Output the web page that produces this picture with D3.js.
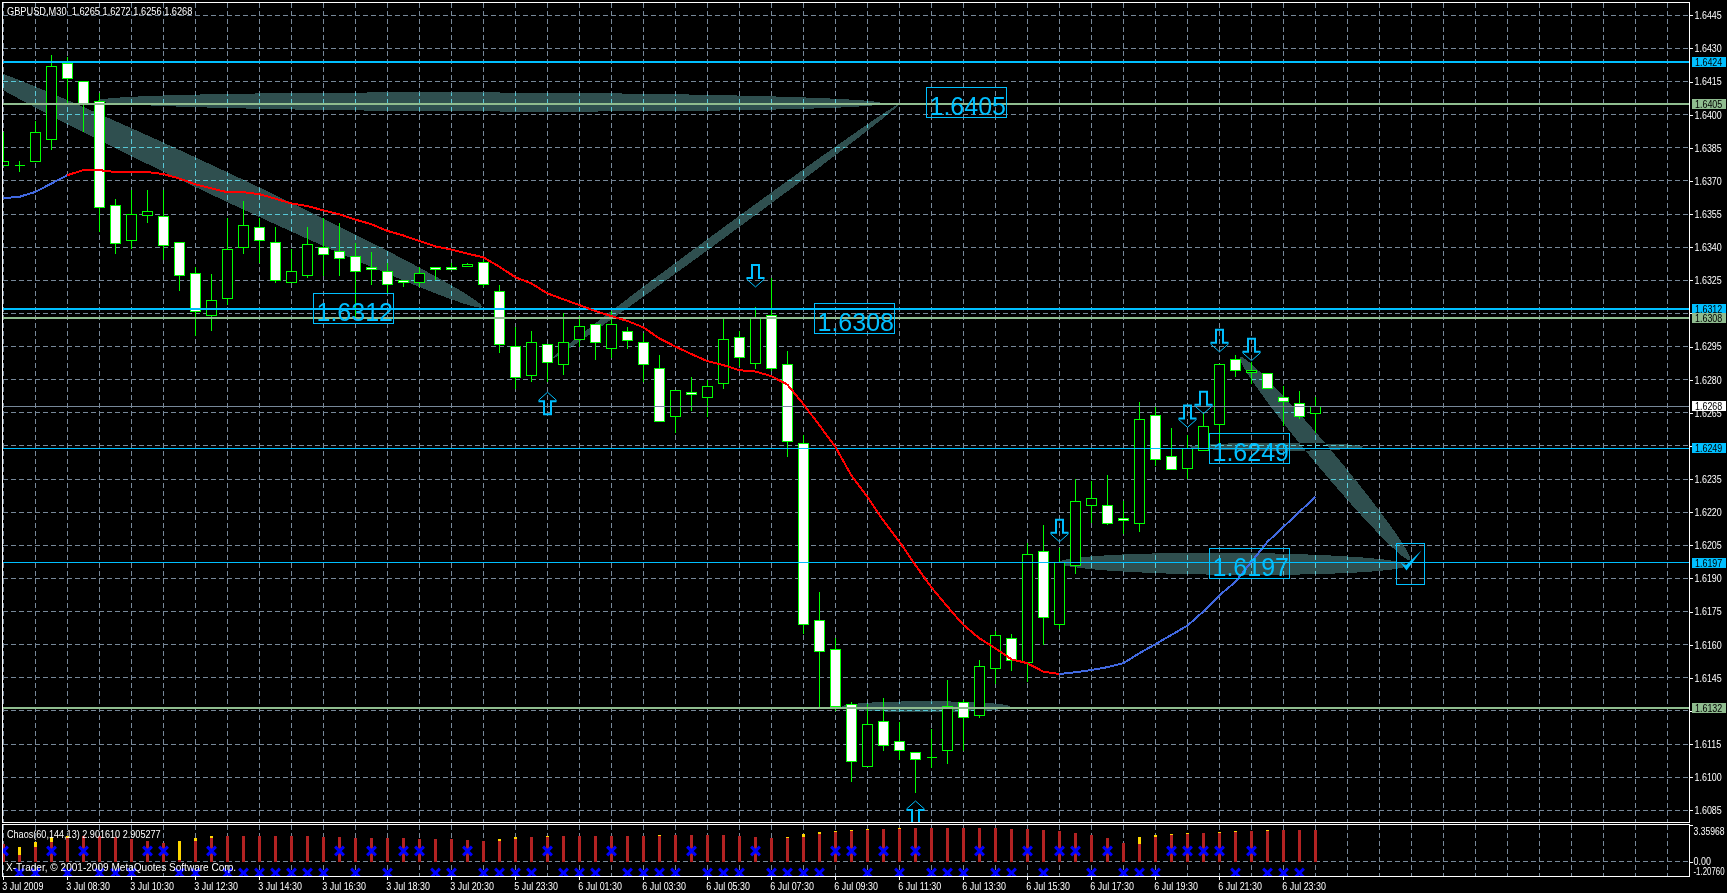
<!DOCTYPE html>
<html><head><meta charset="utf-8">
<script src="https://cdnjs.cloudflare.com/ajax/libs/d3/7.8.5/d3.min.js"></script>
<style>
html,body{margin:0;padding:0;background:#000;overflow:hidden}
svg{display:block}
text{font-family:"Liberation Sans",Arial,sans-serif;font-size:10.5px;fill:#fff}
.axis path{display:none}
.axis line{stroke:#fff;shape-rendering:crispEdges}
text.big{font-family:"Liberation Sans",Arial,sans-serif;font-size:25px;fill:#00bfff}
text.dark{fill:#000}
</style></head><body><div id="chart"></div>
<script>
// ---------- data ----------
const opens=[1.6377,1.6377,1.6379,1.6389,1.6423,1.6415,1.6406,1.6359,1.6343,1.6354,1.6354,1.6342,1.6328,1.6309,1.6317,1.6340,1.6349,1.6342,1.6324,1.6327,1.6340,1.6338,1.6336,1.6331,1.6329,1.6325,1.6324,1.6331,1.6331,1.6331,1.6333,1.6320,1.6295,1.6282,1.6296,1.6287,1.6298,1.6305,1.6294,1.6302,1.6297,1.6285,1.6263,1.6274,1.6272,1.6278,1.6299,1.6287,1.6309,1.6287,1.6251,1.6171,1.6158,1.6133,1.6105,1.6125,1.6116,1.6111,1.6109,1.6112,1.6134,1.6128,1.6149,1.6163,1.6152,1.6202,1.6169,1.6196,1.6223,1.6223,1.6217,1.6215,1.6264,1.6245,1.6240,1.6248,1.6260,1.6289,1.6283,1.6283,1.6272,1.6269,1.6265];
const highs=[1.6392,1.6379,1.6397,1.6427,1.6426,1.6415,1.6410,1.6362,1.6366,1.6366,1.6366,1.6342,1.6331,1.6328,1.6353,1.6361,1.6353,1.6349,1.6339,1.6349,1.6353,1.6351,1.6342,1.6338,1.6333,1.6325,1.6331,1.6331,1.6333,1.6333,1.6334,1.6323,1.6304,1.6302,1.6296,1.6310,1.6309,1.6305,1.6311,1.6304,1.6301,1.6291,1.6275,1.6281,1.6280,1.6308,1.6302,1.6313,1.6326,1.6293,1.6255,1.6184,1.6163,1.6134,1.6133,1.6136,1.6125,1.6111,1.6122,1.6144,1.6135,1.6153,1.6166,1.6165,1.6206,1.6214,1.6204,1.6235,1.6234,1.6237,1.6225,1.6270,1.6268,1.6258,1.6255,1.6265,1.6287,1.6291,1.6288,1.6283,1.6277,1.6275,1.6272];
const lows=[1.6377,1.6374,1.6379,1.6384,1.6405,1.6392,1.6347,1.6337,1.6339,1.6351,1.6334,1.6320,1.6300,1.6302,1.6314,1.6337,1.6333,1.6324,1.6324,1.6326,1.6327,1.6327,1.6308,1.6323,1.6319,1.6322,1.6322,1.6325,1.6330,1.6331,1.6322,1.6292,1.6276,1.6279,1.6279,1.6282,1.6295,1.6289,1.6290,1.6294,1.6279,1.6261,1.6256,1.6266,1.6263,1.6276,1.6286,1.6285,1.6284,1.6245,1.6165,1.6132,1.6130,1.6098,1.6105,1.6112,1.6108,1.6093,1.6104,1.6106,1.6112,1.6127,1.6142,1.6148,1.6143,1.6160,1.6167,1.6192,1.6215,1.6214,1.6210,1.6211,1.6241,1.6239,1.6235,1.6248,1.6251,1.6281,1.6278,1.6276,1.6259,1.6262,1.6256];
const closes=[1.6379,1.6377,1.6392,1.6422,1.6416,1.6405,1.6358,1.6342,1.6355,1.6356,1.6341,1.6327,1.6311,1.6316,1.6339,1.6350,1.6343,1.6325,1.6329,1.6341,1.6337,1.6335,1.6329,1.6330,1.6323,1.6324,1.6328,1.6330,1.6330,1.6332,1.6323,1.6296,1.6281,1.6297,1.6288,1.6297,1.6304,1.6297,1.6305,1.6298,1.6287,1.6261,1.6275,1.6273,1.6277,1.6298,1.6290,1.6308,1.6285,1.6252,1.6169,1.6157,1.6132,1.6107,1.6124,1.6114,1.6112,1.6108,1.6109,1.6132,1.6127,1.6150,1.6164,1.6153,1.6201,1.6172,1.6197,1.6225,1.6226,1.6215,1.6216,1.6262,1.6244,1.6239,1.6249,1.6259,1.6287,1.6284,1.6284,1.6276,1.6270,1.6263,1.6268];
const maValues=[1.63622,1.63628,1.6365,1.63688,1.63726,1.63749,1.63749,1.6374,1.63741,1.6374,1.63731,1.63711,1.63685,1.63666,1.63649,1.63649,1.6364,1.6362,1.63598,1.63586,1.63567,1.63549,1.63525,1.63504,1.63474,1.63453,1.63428,1.63404,1.63389,1.63371,1.63354,1.63312,1.63264,1.63236,1.63191,1.63164,1.63138,1.63111,1.63088,1.63066,1.63037,1.62987,1.6295,1.62916,1.62884,1.62866,1.62843,1.62837,1.62816,1.62778,1.6269,1.62594,1.62496,1.62367,1.6227,1.62162,1.62067,1.61961,1.6186,1.61773,1.6169,1.61629,1.61584,1.61534,1.61516,1.61478,1.61467,1.61475,1.61485,1.61498,1.61516,1.61561,1.61602,1.61644,1.61686,1.6175,1.61823,1.61884,1.61974,1.62065,1.62133,1.62201,1.62269];
const chaosRed=[1.64,0.64,1.36,1.82,2.18,2.36,2.36,2.24,2.09,1.91,1.73,0.18,1.91,2.18,2.36,2.36,2.36,2.36,2.36,2.36,2.27,2.27,2.18,2.18,2.18,2.18,2.09,2.09,2.09,2.0,1.91,1.91,2.09,2.27,2.27,2.36,2.36,2.36,2.36,2.36,2.36,2.36,2.45,2.45,2.45,2.45,2.36,2.27,2.18,2.18,2.27,2.55,2.73,2.82,2.91,3.0,3.0,3.09,3.09,3.09,3.09,3.09,3.09,3.0,3.0,2.91,2.82,2.64,2.45,2.18,1.73,1.64,2.27,2.45,2.55,2.64,2.64,2.73,2.82,2.82,2.91,2.91,2.90];
const chaosGold=[1.64,1.36,1.82,2.24,2.36,2.36,2.36,2.24,2.09,1.91,1.73,1.91,2.18,2.36,2.36,2.36,2.36,2.36,2.36,2.36,2.27,2.27,2.18,2.18,2.18,2.18,2.09,2.09,2.09,2.0,1.91,2.09,2.27,2.27,2.36,2.36,2.36,2.36,2.36,2.36,2.36,2.45,2.45,2.45,2.45,2.45,2.36,2.27,2.18,2.27,2.55,2.73,2.82,2.91,3.0,3.0,3.09,3.09,3.09,3.09,3.09,3.09,3.09,3.0,3.0,2.91,2.82,2.64,2.45,2.18,1.73,2.27,2.45,2.55,2.64,2.64,2.73,2.82,2.82,2.91,2.91,2.91,2.905];
const chaosSignal=[1,-1,-1,1,-1,1,-1,-1,-1,1,1,-1,-1,1,-1,-1,-1,-1,-1,-1,-1,1,-1,1,-1,1,1,-1,-1,1,-1,-1,-1,-1,1,-1,-1,-1,1,-1,-1,-1,-1,1,-1,-1,-1,1,-1,-1,-1,-1,1,1,-1,1,-1,1,-1,-1,-1,1,-1,-1,1,-1,1,1,-1,1,-1,-1,-1,1,1,1,1,-1,1,-1,-1,-1,null];
const priceTicks=[1.6445,1.6430,1.6415,1.6400,1.6385,1.6370,1.6355,1.6340,1.6325,1.6310,1.6295,1.6280,1.6265,1.6250,1.6235,1.6220,1.6205,1.6190,1.6175,1.6160,1.6145,1.6130,1.6115,1.6100,1.6085];
// 1.6310, 1.6250 and 1.6130 sit under the level tags in the picture
const priceTickText=["1.6445","1.6430","1.6415","1.6400","1.6385","1.6370","1.6355","1.6340","1.6325","","1.6295","1.6280","1.6265","","1.6235","1.6220","1.6205","1.6190","1.6175","1.6160","1.6145","","1.6115","1.6100","1.6085"];
const timeLabels=["3 Jul 2009","3 Jul 08:30","3 Jul 10:30","3 Jul 12:30","3 Jul 14:30","3 Jul 16:30","3 Jul 18:30","3 Jul 20:30","5 Jul 23:30","6 Jul 01:30","6 Jul 03:30","6 Jul 05:30","6 Jul 07:30","6 Jul 09:30","6 Jul 11:30","6 Jul 13:30","6 Jul 15:30","6 Jul 17:30","6 Jul 19:30","6 Jul 21:30","6 Jul 23:30"];
const levelPrices=[1.6424,1.6405,1.6312,1.6308,1.6268,1.6249,1.6197,1.61315];
const levelNames=["1.6424","1.6405","1.6312","1.6308","1.6268","1.6249","1.6197","1.6132"];
const levelKinds=["res","sup","res","sup","bid","thin","thin","sup"];
// ellipse anchors: bar index and price of both ends
const ellBarA=[-2.64,5.92,34.36,52.42,74.17,65.98,77.3];
const ellPriceA=[1.64239,1.64064,1.62898,1.61319,1.62496,1.61972,1.62902];
const ellBarB=[29.92,54.92,55.92,62.92,84.98,87.73,87.92];
const ellPriceB=[1.63129,1.64051,1.64044,1.61319,1.62496,1.6196,1.61983];
const noteText=["1.6312","1.6405","1.6308","1.6249","1.6197"];
const noteBar=[19.4,57.67,50.67,75.36,75.36];
const notePrice=[1.63188,1.64121,1.63147,1.62558,1.62037];
const downArrowBars=[47,66,74,75,76,78];
const downArrowPrices=[1.6322,1.62066,1.62584,1.62646,1.62926,1.62886];
const upArrowBars=[34,57];
const upArrowPrices=[1.62743,1.60892];
const checkBar=87.1, checkPrice=1.62056;
const headerText="GBPUSD,M30  1.6265 1.6272 1.6256 1.6268";
const chaosTitle="Chaos(60,144,13) 2.901610 2.905277";
const copyright="X-Trader, © 2001-2009 MetaQuotes Software Corp.";

// ---------- layout ----------
const W=1727,H=893,L=2.5,R=1689.5,T=2.5,B1=822.5,T2=824.5,B2=876.5;
const CYAN="#00bfff",SAGE="#8fbc8f",SLATE="#778899",TEAL="#2f4f4f",GREEN="#00ff00";
const x=d3.scaleLinear().domain([0,104]).range([3.3,1667.3]);
const y=d3.scaleLinear().domain([1.6445,1.6085]).range([15.3,810.3]);
const yc=d3.scaleLinear().domain([3.35968,-1.2076]).range([825,875.24]);
const svg=d3.select("#chart").append("svg").attr("width",W).attr("height",H);
const defs=svg.append("defs");
defs.append("clipPath").attr("id","main").append("rect").attr("x",L+.5).attr("y",T+.5).attr("width",R-L-1).attr("height",B1-T-1);
defs.append("clipPath").attr("id","sub").append("rect").attr("x",L+.5).attr("y",T2+.5).attr("width",R-L-1).attr("height",B2-T2-1);
const px=v=>Math.floor(v)+.5;

const gMain=svg.append("g").attr("clip-path","url(#main)");
const gSub=svg.append("g").attr("clip-path","url(#sub)");
const gridBars=d3.range(0,105,2);
function drawGrid(g,colour,xs,y0,y1,ys){
  const c=g.append("g").attr("stroke",colour).attr("stroke-dasharray","5,3").attr("shape-rendering","crispEdges");
  c.selectAll("line.v").data(xs).join("line").attr("class","v").attr("x1",d=>px(x(d))).attr("x2",d=>px(x(d))).attr("y1",y0).attr("y2",y1);
  c.selectAll("line.h").data(ys).join("line").attr("class","h").attr("x1",L).attr("x2",R).attr("y1",d=>d).attr("y2",d=>d);
}
const hGrid=priceTicks.map(p=>px(y(p)));
drawGrid(gMain,SLATE,gridBars,T,B1,hGrid);

// ellipses
const ellWidth=[27,19,9,11,8,22,20];
const ellipses=ellBarA.map((b,i)=>{
  const ax=x(b),ay=y(ellPriceA[i]),bx=x(ellBarB[i]),by=y(ellPriceB[i]);
  return {cx:(ax+bx)/2,cy:(ay+by)/2,rx:Math.hypot(bx-ax,by-ay)/2,ry:ellWidth[i]/2,rot:Math.atan2(by-ay,bx-ax)*180/Math.PI};
});
const addEll=(sel)=>sel.selectAll("ellipse").data(ellipses).join("ellipse")
  .attr("cx",d=>d.cx).attr("cy",d=>d.cy).attr("rx",d=>d.rx).attr("ry",d=>d.ry)
  .attr("transform",d=>`rotate(${d.rot} ${d.cx} ${d.cy})`);
const gEll=gMain.append("g").style("isolation","isolate").attr("shape-rendering","crispEdges");
addEll(gEll).attr("fill",TEAL).style("mix-blend-mode","difference");
addEll(defs.append("clipPath").attr("id","ellclip"));
drawGrid(gMain.append("g").attr("clip-path","url(#ellclip)"),"#58c7d6",gridBars,T,B1,hGrid);

// candles
const bars=d3.range(opens.length);
const gC=gMain.append("g").attr("shape-rendering","crispEdges");
gC.selectAll("line.wick").data(bars).join("line").attr("class","wick")
  .attr("x1",i=>px(x(i))).attr("x2",i=>px(x(i))).attr("y1",i=>y(highs[i])).attr("y2",i=>y(lows[i]))
  .attr("stroke",GREEN);
gC.selectAll("rect").data(bars.filter(i=>opens[i]!==closes[i])).join("rect")
  .attr("x",i=>px(x(i))-5).attr("width",10)
  .attr("y",i=>px(y(Math.max(opens[i],closes[i]))))
  .attr("height",i=>Math.max(1,Math.round(Math.abs(y(opens[i])-y(closes[i])))))
  .attr("fill",i=>closes[i]>opens[i]?"#000":"#fff").attr("stroke",GREEN);
gC.selectAll("line.doji").data(bars.filter(i=>opens[i]===closes[i])).join("line").attr("class","doji")
  .attr("x1",i=>px(x(i))-5).attr("x2",i=>px(x(i))+5).attr("y1",i=>px(y(opens[i]))).attr("y2",i=>px(y(opens[i]))).attr("stroke",GREEN);

// levels
const levelStroke={res:CYAN,sup:SAGE,bid:SLATE,thin:CYAN}, levelW={res:2,sup:2,bid:1,thin:1};
gMain.append("g").attr("shape-rendering","crispEdges").selectAll("line").data(levelPrices).join("line")
  .attr("x1",L).attr("x2",R)
  .attr("y1",(d,i)=>levelW[levelKinds[i]]===1?px(y(d)):Math.round(y(d)))
  .attr("y2",(d,i)=>levelW[levelKinds[i]]===1?px(y(d)):Math.round(y(d)))
  .attr("stroke",(d,i)=>levelStroke[levelKinds[i]]).attr("stroke-width",(d,i)=>levelW[levelKinds[i]]);

// moving average: blue while rising, red while falling
const maLine=d3.line().x(d=>x(d)).y(d=>y(maValues[d]));
[[d3.range(0,5),"#4169e1"],[d3.range(4,67),"#ff0000"],[d3.range(66,83),"#4169e1"]].forEach(([idx,c])=>{
  gMain.append("path").attr("d",maLine(idx)).attr("fill","none").attr("stroke",c).attr("stroke-width",2).attr("shape-rendering","crispEdges");
});

// notes
const gN=gMain.append("g");
noteText.forEach((t,i)=>{
  const bx=px(x(noteBar[i])),by=px(y(notePrice[i]));
  gN.append("rect").attr("x",bx).attr("y",by).attr("width",80).attr("height",30).attr("fill","none").attr("stroke",CYAN).attr("shape-rendering","crispEdges");
  gN.append("text").attr("class","big").attr("x",bx+3).attr("y",by+27).text(t);
});
// check mark
{const bx=px(x(checkBar)),by=px(y(checkPrice));
 gN.append("rect").attr("x",bx).attr("y",by).attr("width",28).attr("height",41).attr("fill","none").attr("stroke",CYAN).attr("shape-rendering","crispEdges");
 gN.append("path").attr("transform",`translate(${bx},${by})`).attr("d","M4,19L9,22L25,7L10,27Z").attr("fill",CYAN);}
// arrows
function arrow(bar,price,dir){
  const g=gN.append("g").attr("transform",`translate(${px(x(bar))},${y(price)}) scale(1,${dir})`).attr("fill","none").attr("stroke",CYAN);
  g.append("path").attr("d","M-9,-9H-3.5V-22H3.5V-9H9").attr("stroke-width",2);
  g.append("path").attr("d","M-9,-8L0,0L9,-8").attr("stroke-width",1);
}
downArrowBars.forEach((b,i)=>arrow(b,downArrowPrices[i],1));
upArrowBars.forEach((b,i)=>arrow(b,upArrowPrices[i],-1));

// indicator pane
drawGrid(gSub,SLATE,gridBars,T2,B2,[px(yc(0))]);
const gI=gSub.append("g").attr("shape-rendering","crispEdges");
gI.selectAll("rect.g").data(bars).join("rect").attr("class","g")
  .attr("x",i=>Math.floor(x(i))-1).attr("width",3).attr("y",i=>yc(chaosGold[i])).attr("height",i=>Math.max(0,yc(chaosRed[i])-yc(chaosGold[i]))).attr("fill","#ffd700");
gI.selectAll("rect.r").data(bars).join("rect").attr("class","r")
  .attr("x",i=>Math.floor(x(i))-1).attr("width",3).attr("y",i=>yc(chaosRed[i])).attr("height",i=>yc(0)-yc(chaosRed[i])).attr("fill","#b22222");
const xSym=d3.symbol().type(d3.symbolX).size(52);
gSub.append("g").selectAll("path").data(bars.filter(i=>chaosSignal[i]!==null)).join("path")
  .attr("d",xSym).attr("transform",i=>`translate(${px(x(i))},${yc(chaosSignal[i])})`)
  .attr("fill","none").attr("stroke","#0000ff").attr("stroke-width",3);

// frames
const fr=svg.append("g").attr("stroke","#fff").attr("fill","none").attr("shape-rendering","crispEdges");
fr.append("rect").attr("x",L).attr("y",T).attr("width",R-L).attr("height",B1-T);
fr.append("rect").attr("x",L).attr("y",T2).attr("width",R-L).attr("height",B2-T2);

// axes
const axP=d3.axisRight(y).tickValues(priceTicks).tickSize(3).tickPadding(2).tickFormat((d,i)=>priceTickText[i]);
svg.append("g").attr("class","axis").attr("transform",`translate(${R},0)`).call(axP);
const axT=d3.axisBottom(x).tickValues(timeLabels.map((_,i)=>i*4)).tickSize(3).tickPadding(1).tickFormat((d,i)=>timeLabels[i]);
const gt=svg.append("g").attr("class","axis").attr("transform",`translate(0,${B2})`).call(axT);
gt.selectAll("text").attr("text-anchor","start").attr("dx",-1.5).attr("y",6);
const axC=d3.axisRight(yc).tickValues([3.35968,0,-1.2076]).tickSize(3).tickPadding(1).tickFormat(d=>d===0?"0.00":d>0?"3.35968":"-1.20760");
const gc=svg.append("g").attr("class","axis indicator").attr("transform",`translate(${R},0)`).call(axC);
gc.selectAll("text").attr("transform",d=>d>0?"translate(0,6)":d<0?"translate(0,-4)":"translate(0,-1)");
gc.selectAll("line").attr("opacity",d=>d<0?0:1);

// level price tags
const tag={res:CYAN,sup:SAGE,bid:"#fff",thin:CYAN};
const gT=svg.append("g");
levelPrices.forEach((p,i)=>{
  const yy=Math.round(y(p));
  gT.append("rect").attr("x",1692).attr("y",yy-5).attr("width",34).attr("height",10).attr("fill",tag[levelKinds[i]]).attr("shape-rendering","crispEdges");
  gT.append("text").attr("class","dark").attr("x",1695).attr("y",yy+4).text(levelNames[i]);
});

// captions
const cap1=svg.append("text").attr("x",7).attr("y",15).attr("xml:space","preserve").style("white-space","pre").text(headerText);
const cap2=svg.append("text").attr("x",7).attr("y",838).text(chaosTitle);
const cap3=svg.append("text").attr("x",6).attr("y",871).text(copyright);

// the reference face is narrow and tall: condense the small text
function squeeze(node,f){
  const len=node.getComputedTextLength();
  if(len>0){node.setAttribute("textLength",(len*f).toFixed(1));node.setAttribute("lengthAdjust","spacingAndGlyphs");}
}
svg.selectAll("text").each(function(){ if(!this.classList.contains("big")) squeeze(this,.85); });
[[cap1,.88/.85],[cap2,.865/.85],[cap3,.958/.85]].forEach(([s,f])=>{
  const n=s.node(); n.setAttribute("textLength",(parseFloat(n.getAttribute("textLength"))*f).toFixed(1));
});
gc.selectAll("text").each(function(d){ if(d!==0) this.setAttribute("textLength","31"); });
</script></body></html>
